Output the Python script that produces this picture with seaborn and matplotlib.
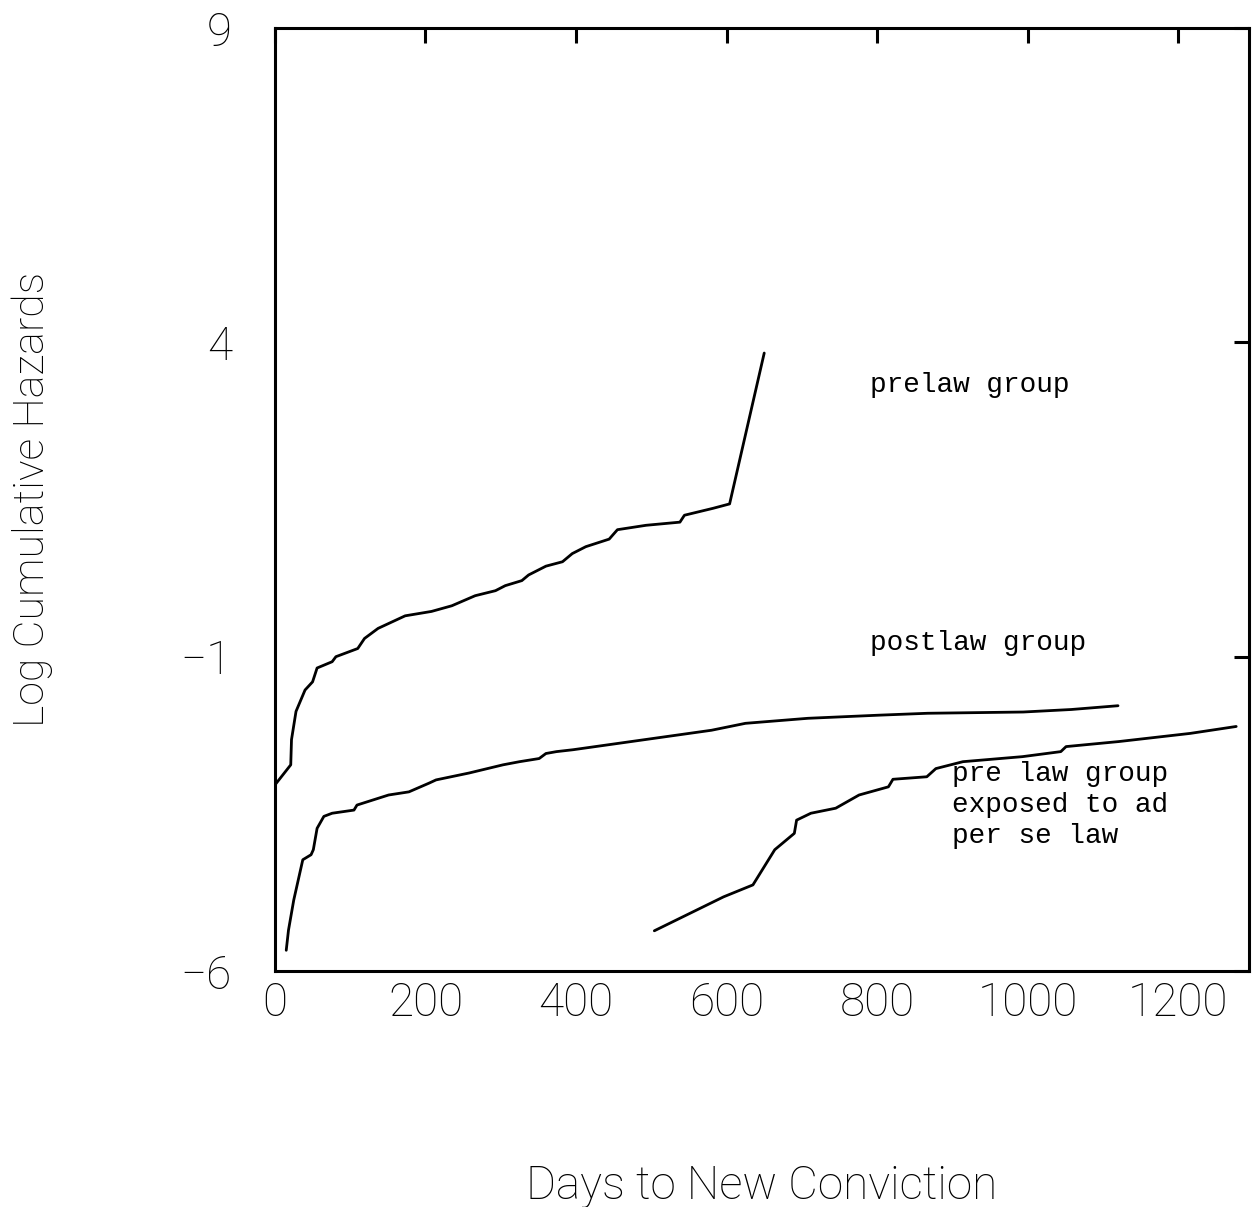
import matplotlib
matplotlib.use("Agg")
import matplotlib.pyplot as plt
import seaborn as sns
import pandas as pd

# ---- data ----
prelaw_days = [0, 21, 22, 28, 40, 50, 56, 76, 81, 110, 119, 137, 173, 208, 235, 266,
               293, 306, 328, 337, 360, 382, 395, 413, 444, 455, 493, 538, 544, 582, 604, 650]
prelaw_logH = [-3.04, -2.72, -2.32, -1.87, -1.53, -1.40, -1.18, -1.08, -1.00, -0.87, -0.71,
               -0.55, -0.35, -0.28, -0.19, -0.03, 0.05, 0.13, 0.21, 0.30, 0.44, 0.51, 0.64,
               0.75, 0.87, 1.02, 1.09, 1.14, 1.25, 1.36, 1.43, 3.83]

postlaw_days = [15, 18, 25, 37, 48, 51, 56, 65, 76, 105, 109, 151, 178, 205, 214, 258, 303,
                325, 351, 360, 374, 396, 485, 580, 625, 708, 803, 867, 994, 1058, 1120]
postlaw_logH = [-5.67, -5.35, -4.87, -4.23, -4.15, -4.07, -3.73, -3.54, -3.49, -3.44, -3.36,
                -3.20, -3.15, -3.01, -2.96, -2.85, -2.72, -2.67, -2.62, -2.54, -2.51, -2.48,
                -2.33, -2.17, -2.06, -1.98, -1.93, -1.90, -1.88, -1.84, -1.78]

exposed_days = [504, 596, 635, 664, 690, 693, 712, 745, 776, 815, 821, 866, 878, 914, 993,
                1044, 1051, 1121, 1216, 1277]
exposed_logH = [-5.36, -4.82, -4.63, -4.07, -3.81, -3.60, -3.49, -3.41, -3.20, -3.07, -2.95,
                -2.91, -2.78, -2.67, -2.59, -2.51, -2.43, -2.35, -2.22, -2.11]

group_names = ["prelaw group", "postlaw group", "pre law group\nexposed to ad\nper se law"]
x_ticks = [0, 200, 400, 600, 800, 1000, 1200]
y_ticks = [-6, -1, 4, 9]
x_label = "Days to New Conviction"
y_label = "Log Cumulative Hazards"

frames = []
for name, xs, ys in zip(group_names,
                        [prelaw_days, postlaw_days, exposed_days],
                        [prelaw_logH, postlaw_logH, exposed_logH]):
    frames.append(pd.DataFrame({"days": xs, "logH": ys, "group": name}))
df = pd.concat(frames, ignore_index=True)

sns.set_theme(style="white")
plt.rcParams["font.family"] = ["Roboto", "DejaVu Sans"]

fig = plt.figure(figsize=(12.52, 12.07), dpi=100)
ax = fig.add_axes([0.2196, 0.1955, 0.7780, 0.7813])

sns.lineplot(data=df, x="days", y="logH", hue="group", units="group", estimator=None,
             sort=False, palette=["black"] * 3, linewidth=2.0, legend=False, ax=ax)

ax.set_xlim(0, 1294)
ax.set_ylim(-6, 9)
ax.set_xticks(x_ticks)
ax.set_yticks(y_ticks)
ax.set_xticklabels([str(v) for v in x_ticks])
ax.set_yticklabels([str(v).replace("-", "\u2212") for v in y_ticks])

ax.tick_params(axis="both", direction="in", length=11, width=2.2, color="black",
               top=True, right=True, labelsize=33, labelcolor="black")
ax.tick_params(axis="x", pad=7)
ax.tick_params(axis="y", pad=31)
for lab in ax.get_xticklabels() + ax.get_yticklabels():
    lab.set_fontweight("light")

for s in ax.spines.values():
    s.set_visible(True)
    s.set_color("black")
    s.set_linewidth(2.2)

ax.set_xlabel(x_label, fontsize=33, fontweight="light", color="black", va="center")
ax.set_ylabel(y_label, fontsize=31, fontweight="light", color="black", va="center")
ax.xaxis.set_label_coords(0.5, -0.228)
ax.yaxis.set_label_coords(-0.249, 0.5)

mono = ["Liberation Mono", "DejaVu Sans Mono"]
ax.text(790, 3.32, group_names[0], family=mono, fontsize=20, color="black",
        ha="left", va="center")
ax.text(790, -0.78, group_names[1], family=mono, fontsize=20, color="black",
        ha="left", va="center")
ax.text(900, -3.36, group_names[2], family=mono, fontsize=20, color="black",
        ha="left", va="center", linespacing=1.23)

fig.savefig("out.png", dpi=100, facecolor="white")
